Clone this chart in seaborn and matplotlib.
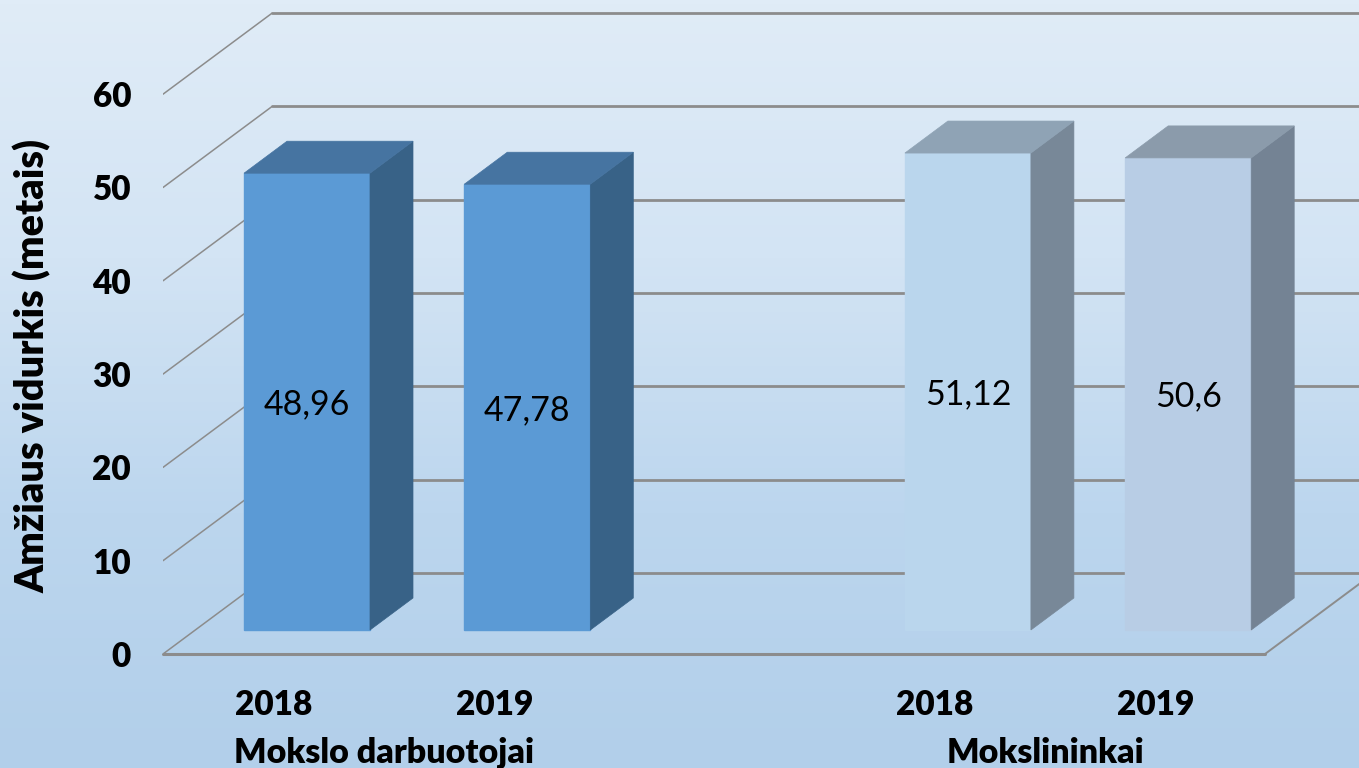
import numpy as np
import pandas as pd
import matplotlib
matplotlib.use("Agg")
import matplotlib.pyplot as plt
import seaborn as sns
from matplotlib.colors import LinearSegmentedColormap
from matplotlib.patches import Polygon


# Chart data
BAR_KEYS = ["md2018", "md2019", "gap", "m2018", "m2019"]
BAR_VALUES = [48.96, 47.78, np.nan, 51.12, 50.6]
BAR_TEXTS = ["48,96", "47,78", "51,12", "50,6"]
YEAR_LABELS = ["2018", "2019", "2018", "2019"]
YEAR_SLOTS = [0, 1, 3, 4]
GROUP_LABELS = ["Mokslo darbuotojai", "Mokslininkai"]
GROUP_SLOTS = [0.5, 3.5]
Y_TICKS = [0, 10, 20, 30, 40, 50, 60]

# Colours: front, side and top of each bar
FRONT_COLORS = ["#5b9ad5", "#5b9ad5", "#ffffff", "#bad6ed", "#b8cde5"]
SIDE_COLORS = ["#386287", "#386287", "#788898", "#748394"]
TOP_COLORS = ["#4674a1", "#4674a1", "#8fa3b5", "#8b9bab"]
LINE_COLOR = "#8c8c8c"
HEAVY = "heavy"

# Fake 3D geometry, in pixels of the 1359x768 canvas
W, H = 1359, 768
PX_PER_UNIT = 9.33
PX_PER_SLOT = 220.3
AX_LEFT, AX_BOTTOM = 163, 654
FRONT_DROP = 24 / PX_PER_UNIT      # bar base down to the front floor edge
WALL_RISE = 57 / PX_PER_UNIT       # bar base up to the back wall base
BAR_DX, BAR_DY = 43 / PX_PER_SLOT, 32 / PX_PER_UNIT
SLOT0_PX = 307


def slot_at(px):
    return (px - SLOT0_PX) / PX_PER_SLOT


def draw_background(fig):
    """Vertical gradient behind everything."""
    bg = fig.add_axes([0, 0, 1, 1], zorder=-1)
    cmap = LinearSegmentedColormap.from_list("bg", ["#e0ecf7", "#d3e4f4", "#bcd6ee", "#b2cfea"])
    bg.imshow(np.linspace(0, 1, 256)[:, None], aspect="auto", cmap=cmap)
    bg.axis("off")


def draw_frame(ax):
    """Back wall grid, side wall diagonals and floor edges."""
    x_floor_left = slot_at(AX_LEFT)
    x_wall_left = slot_at(272)
    x_floor_right = slot_at(1265)
    x_wall_right = slot_at(1374)
    for v in Y_TICKS:
        ax.plot([x_floor_left, x_wall_left], [v - FRONT_DROP, v + WALL_RISE],
                color=LINE_COLOR, lw=1.1, zorder=1)
        ax.plot([x_wall_left, x_wall_right], [v + WALL_RISE, v + WALL_RISE],
                color=LINE_COLOR, lw=2.0, zorder=1)
    ax.plot([x_floor_left, x_floor_right], [-FRONT_DROP, -FRONT_DROP],
            color=LINE_COLOR, lw=2.2, zorder=1, clip_on=False)
    ax.plot([x_floor_right, x_wall_right], [-FRONT_DROP, WALL_RISE],
            color=LINE_COLOR, lw=1.4, zorder=1)


def draw_bar_depth(ax, bars):
    """Add the side and top faces to the seaborn bars."""
    for bar, side, top in zip(bars, SIDE_COLORS, TOP_COLORS):
        x0, x1 = bar.get_x(), bar.get_x() + bar.get_width()
        h = bar.get_height()
        bar.set_zorder(3)
        bar.set_edgecolor(bar.get_facecolor())
        ax.add_patch(Polygon([(x1, 0), (x1 + BAR_DX, BAR_DY), (x1 + BAR_DX, h + BAR_DY), (x1, h)],
                             facecolor=side, edgecolor=side, lw=0.5, zorder=3))
        ax.add_patch(Polygon([(x0, h), (x1, h), (x1 + BAR_DX, h + BAR_DY), (x0 + BAR_DX, h + BAR_DY)],
                             facecolor=top, edgecolor=top, lw=0.5, zorder=3))


def main():
    sns.set_theme(style="white")
    plt.rcParams["font.family"] = ["Lato", "DejaVu Sans"]

    fig = plt.figure(figsize=(W / 100, H / 100), dpi=100)
    draw_background(fig)

    ax = fig.add_axes([AX_LEFT / W, (H - AX_BOTTOM) / H, (W - AX_LEFT) / W, AX_BOTTOM / H])
    ax.patch.set_alpha(0)

    df = pd.DataFrame({"key": BAR_KEYS, "value": BAR_VALUES})
    sns.barplot(data=df, x="key", y="value", hue="key", order=BAR_KEYS, hue_order=BAR_KEYS,
                palette=FRONT_COLORS, width=126 / PX_PER_SLOT, dodge=False, legend=False,
                saturation=1, ax=ax)

    ax.set_xlim(slot_at(AX_LEFT), slot_at(W))
    ax.set_ylim(-FRONT_DROP, AX_BOTTOM / PX_PER_UNIT - FRONT_DROP)

    draw_frame(ax)
    bars = [b for c in ax.containers for b in c if not np.isnan(b.get_height())]
    draw_bar_depth(ax, bars)

    # Value labels sit in the middle of the front faces
    for bar, text in zip(bars, BAR_TEXTS):
        ax.annotate(text, (bar.get_x() + bar.get_width() / 2, bar.get_height() / 2),
                    xytext=(0, -2), textcoords="offset points", ha="center", va="center",
                    fontsize=24.5, color="black", zorder=5)

    sns.despine(ax=ax, left=True, bottom=True, top=True, right=True)

    # Tick labels follow the front edge of the floor, not the bars
    ax.set_xticks([s - 33 / PX_PER_SLOT for s in YEAR_SLOTS])
    ax.set_xticklabels(YEAR_LABELS, fontsize=24, fontweight=HEAVY, color="black")
    ax.set_yticks([v - FRONT_DROP for v in Y_TICKS])
    ax.set_yticklabels([str(v) for v in Y_TICKS], fontsize=24, fontweight=HEAVY, color="black")
    ax.tick_params(axis="x", length=0, pad=25)
    ax.tick_params(axis="y", length=0, pad=23)

    ax.set_xlabel("")
    ax.set_ylabel("")
    fig.text(33 / W, 1 - 366 / H, "Amžiaus vidurkis (metais)", rotation=90, ha="center", va="center",
             fontsize=28.5, fontweight=HEAVY, color="black")

    for slot, label in zip(GROUP_SLOTS, GROUP_LABELS):
        ax.annotate(label, (slot - 33 / PX_PER_SLOT, 0), xycoords=("data", "axes fraction"),
                    xytext=(0, -71.5), textcoords="offset points", ha="center", va="center",
                    fontsize=24.5, fontweight=HEAVY, color="black", annotation_clip=False)

    fig.savefig("out.png", dpi=100)
    plt.close(fig)


if __name__ == "__main__":
    main()
